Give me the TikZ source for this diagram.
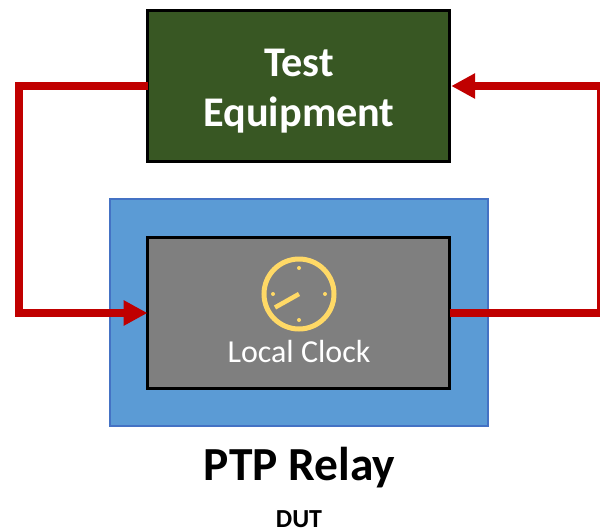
\documentclass[tikz,border=0pt]{standalone}
\usepackage{fontspec}
\setmainfont{Carlito}
\usetikzlibrary{arrows.meta}
\definecolor{greenbox}{RGB}{56,87,35}
\definecolor{bluebox}{RGB}{91,155,213}
\definecolor{blueedge}{RGB}{68,114,196}
\definecolor{greybox}{RGB}{127,127,127}
\definecolor{wire}{RGB}{192,0,0}
\definecolor{clockc}{RGB}{255,217,102}
\tikzset{
  x=0.75pt,y=-0.75pt,
  panel/.style={draw=black,line width=1.9pt,minimum width=226.5pt,minimum height=113.25pt,inner sep=0pt,outer sep=0pt},
  link/.style={draw=wire,line width=6pt,line join=miter},
  tipped/.style={-{Triangle[length=18pt,width=18pt,sep=0pt]}},
  caption/.style={text=black,inner sep=0pt},
  clockline/.style={draw=clockc,line cap=butt}
}
\begin{document}
\begin{tikzpicture}
\useasboundingbox (0,0) rectangle (600,532);
\node[draw=blueedge,fill=bluebox,line width=1.5pt,minimum width=283.5pt,minimum height=170pt,inner sep=0pt,outer sep=0pt] (dut) at (298.75,312.75) {};
\node[panel,fill=greenbox] (te) at (298.5,86) {};
\node[text=white,inner sep=0pt,align=center,font=\fontsize{31.7}{38}\selectfont\bfseries] (tet) at (299,91) {Test\\Equipment};
\node[panel,fill=greybox] (clk) at (298.5,313) {};
\coordinate (lft) at (19,86);
\coordinate (rgt) at (601,86);
\draw[link,tipped] (te.west) -- (lft) |- (clk.west);
\draw[link,tipped,shorten >=1.3pt] (clk.east) -| (rgt) -- (te.east);
\node[draw=clockc,line width=3.75pt,circle,minimum size=52.5pt,inner sep=0pt,outer sep=0pt] (dial) at (299,294) {};
\foreach \a in {0,90,180,270} \fill[clockc] (dial.center) ++(\a:26) circle (1.5pt);
\draw[clockline,line width=3.4pt] (dial.center) -- (275,307.5);
\node[text=white,inner sep=0pt,font=\fontsize{24}{28}\selectfont] (lbl) at (299,352) {Local Clock};
\node[caption,font=\fontsize{35.6}{40}\selectfont\bfseries] (title) at (299.5,468) {PTP Relay};
\node[caption,font=\fontsize{19.5}{24}\selectfont\bfseries] (sub) at (299,519) {DUT};
\end{tikzpicture}
\end{document}
